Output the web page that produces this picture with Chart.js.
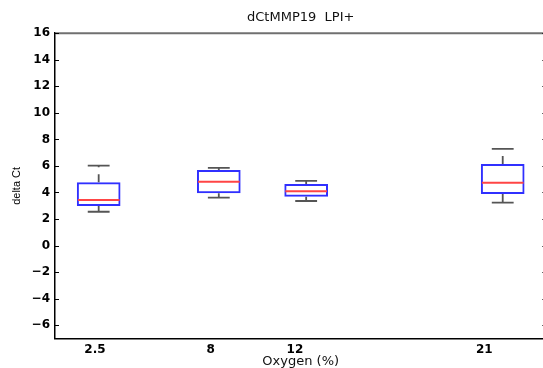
<!DOCTYPE html>
<html>
<head>
<meta charset="utf-8">
<script src="https://cdn.jsdelivr.net/npm/chart.js@4.4.1/dist/chart.umd.min.js"></script>
<style>
  html, body { margin: 0; padding: 0; background: #fff; overflow: hidden; }
  #wrap { width: 548px; height: 368px; }
</style>
</head>
<body>
<div id="wrap"><canvas id="chart" width="548" height="368"></canvas></div>
<script>
// oxygen levels and box statistics (delta Ct)
const positions = [2.5, 8, 12, 21];
const xLabels = ['2.5', '8', '12', '21'];
const q1 = [2.98, 3.94, 3.68, 3.89];
const median = [3.44, 4.81, 4.09, 4.74];
const q3 = [4.77, 5.70, 4.64, 6.15];
const whiskerLow = [2.55, 3.61, 3.36, 3.23];
const whiskerHigh = [6.02, 5.85, 4.87, 7.28];
const yTicks = [-6, -4, -2, 0, 2, 4, 6, 8, 10, 12, 14, 16];

// box width = half the smallest gap between positions
let minGap = Infinity;
for (let i = 1; i < positions.length; i++) minGap = Math.min(minGap, positions[i] - positions[i - 1]);
const boxWidth = 0.5 * minGap;

const tickFont = { family: 'DejaVu Sans', size: 12, weight: 'bold' };

// whiskers, caps and medians on top of the boxes
const boxExtras = {
  id: 'boxExtras',
  afterDatasetsDraw(chart) {
    const ctx = chart.ctx;
    const x = chart.scales.x, y = chart.scales.y;
    ctx.save();
    positions.forEach((p, i) => {
      const cx = x.getPixelForValue(p);
      const capL = x.getPixelForValue(p - boxWidth / 4);
      const capR = x.getPixelForValue(p + boxWidth / 4);
      const bl = x.getPixelForValue(p - boxWidth / 2);
      const br = x.getPixelForValue(p + boxWidth / 2);

      ctx.strokeStyle = '#555';
      ctx.lineWidth = 1.8;
      ctx.setLineDash([8, 7]);
      ctx.beginPath();
      ctx.moveTo(cx, y.getPixelForValue(q3[i]));
      ctx.lineTo(cx, y.getPixelForValue(whiskerHigh[i]));
      ctx.moveTo(cx, y.getPixelForValue(q1[i]));
      ctx.lineTo(cx, y.getPixelForValue(whiskerLow[i]));
      ctx.stroke();

      ctx.setLineDash([]);
      ctx.beginPath();
      ctx.moveTo(capL, y.getPixelForValue(whiskerHigh[i]));
      ctx.lineTo(capR, y.getPixelForValue(whiskerHigh[i]));
      ctx.moveTo(capL, y.getPixelForValue(whiskerLow[i]));
      ctx.lineTo(capR, y.getPixelForValue(whiskerLow[i]));
      ctx.stroke();

      ctx.strokeStyle = '#ff4545';
      ctx.lineWidth = 2;
      ctx.beginPath();
      ctx.moveTo(bl + 1, y.getPixelForValue(median[i]));
      ctx.lineTo(br - 1, y.getPixelForValue(median[i]));
      ctx.stroke();
    });
    ctx.restore();
  }
};

// matlab style frame: grey top edge, inward ticks on both sides
const axisFrame = {
  id: 'axisFrame',
  afterDraw(chart) {
    const ctx = chart.ctx;
    const a = chart.chartArea;
    const y = chart.scales.y;
    ctx.save();
    ctx.strokeStyle = '#707070';
    ctx.lineWidth = 2;
    ctx.beginPath();
    ctx.moveTo(a.left, a.top);
    ctx.lineTo(a.right, a.top);
    ctx.stroke();

    ctx.strokeStyle = '#000';
    ctx.lineWidth = 1;
    ctx.beginPath();
    yTicks.forEach(v => {
      const py = Math.round(y.getPixelForValue(v)) + 0.5;
      ctx.moveTo(a.left, py);
      ctx.lineTo(a.left + 4, py);
      ctx.moveTo(a.right - 4, py);
      ctx.lineTo(a.right, py);
    });
    ctx.stroke();
    ctx.restore();
  }
};

new Chart(document.getElementById('chart'), {
  type: 'bar',
  data: {
    datasets: [{
      data: positions.map((p, i) => ({ x: p, y: [q1[i], q3[i]] })),
      xAxisID: 'x',
      yAxisID: 'y',
      backgroundColor: 'rgba(0,0,0,0)',
      borderColor: '#3030ff',
      borderWidth: 2,
      borderSkipped: false,
      inflateAmount: 0,
      categoryPercentage: 1,
      barPercentage: 0.5
    }]
  },
  options: {
    responsive: false,
    animation: false,
    events: [],
    layout: { padding: { left: 0, right: 1.6, top: 0, bottom: 0 } },
    plugins: {
      legend: { display: false },
      tooltip: { enabled: false },
      title: {
        display: true,
        text: 'dCtMMP19  LPI+',
        fullSize: false,
        color: '#111',
        font: { family: 'DejaVu Sans', size: 13, weight: 'normal' },
        padding: { top: 10, bottom: 7.6 }
      }
    },
    scales: {
      x: {
        type: 'linear',
        display: false,
        min: 0.5,
        max: 23,
        offset: false,
        afterBuildTicks: s => { s.ticks = positions.map(v => ({ value: v })); }
      },
      xl: {
        type: 'linear',
        position: 'bottom',
        min: 0.6,
        max: 23.95,
        offset: false,
        grid: { display: false, drawTicks: false, offset: false },
        border: { display: true, color: '#000', width: 1.5 },
        afterBuildTicks: s => { s.ticks = positions.map(v => ({ value: v })); },
        afterFit: s => { s.height = 29.5; },
        ticks: {
          color: '#000',
          font: tickFont,
          padding: 4,
          maxRotation: 0,
          autoSkip: false,
          callback: (v, i) => xLabels[i]
        },
        title: {
          display: true,
          text: 'Oxygen (%)',
          color: '#111',
          font: { family: 'DejaVu Sans', size: 13, lineHeight: 1 },
          padding: { top: 0, bottom: 0 }
        }
      },
      y: {
        type: 'linear',
        position: 'left',
        min: -7,
        max: 16,
        grid: { display: false, drawTicks: false },
        border: { display: true, color: '#000', width: 1.5 },
        afterBuildTicks: s => { s.ticks = yTicks.map(v => ({ value: v })); },
        afterFit: s => { s.width = 55; },
        ticks: {
          color: '#000',
          font: tickFont,
          padding: 5,
          callback: v => (v < 0 ? '\u2212' + Math.abs(v) : String(v))
        },
        title: {
          display: true,
          text: 'delta Ct',
          color: '#000',
          font: { family: 'Liberation Sans', size: 11 },
          padding: { top: 10.2, bottom: 0 }
        }
      }
    }
  },
  plugins: [boxExtras, axisFrame]
});
</script>
</body>
</html>
